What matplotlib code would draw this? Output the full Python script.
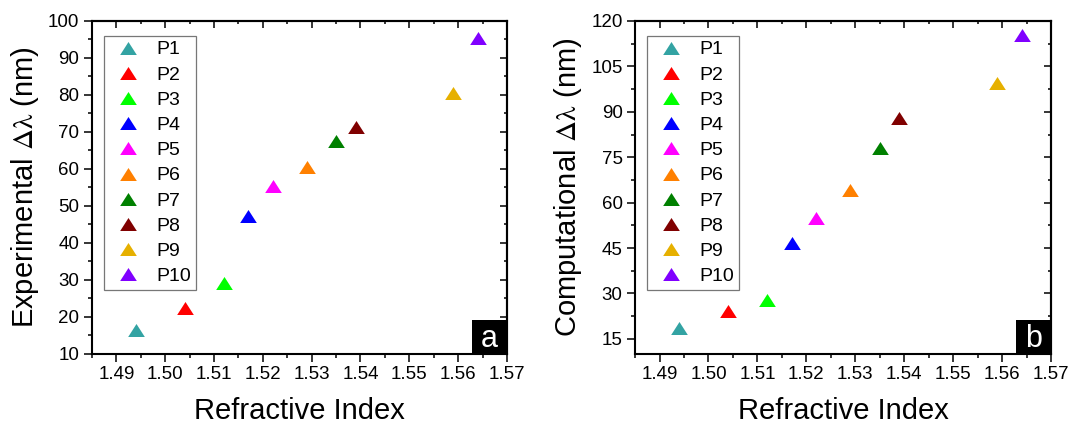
import matplotlib
matplotlib.use('Agg')
import matplotlib.pyplot as plt
from matplotlib.patches import Rectangle
from matplotlib.ticker import MultipleLocator, FormatStrFormatter

plt.rcParams['font.family'] = ['Liberation Sans', 'DejaVu Sans']
plt.rcParams['mathtext.fontset'] = 'stix'

labels = ['P1', 'P2', 'P3', 'P4', 'P5', 'P6', 'P7', 'P8', 'P9', 'P10']
colors = ['#33A3A3', '#FF0000', '#00FF00', '#0000FF', '#FF00FF',
          '#FF8000', '#008000', '#800000', '#E6B000', '#8000FF']
ri = [1.494, 1.504, 1.512, 1.517, 1.522, 1.529, 1.535, 1.539, 1.559, 1.564]
exp_shift = [16.5, 22.4, 29.3, 47.3, 55.4, 60.6, 67.5, 71.4, 80.6, 95.5]
comp_shift = [18.6, 24.1, 27.9, 46.5, 54.8, 64.3, 78.0, 87.8, 99.5, 115.3]

# slightly flattened up-triangle, like the original marker
tri = [(0, 0.78), (-1, -0.78), (1, -0.78), (0, 0.78)]

fig = plt.figure(figsize=(10.72, 4.24), dpi=100)
ax_a = fig.add_axes([0.0858, 0.1651, 0.3871, 0.7854])
ax_b = fig.add_axes([0.5924, 0.1651, 0.3881, 0.7854])

LW = 1.5


def style_panel(ax, yvals, ylabel, ylim, ymajor, tag):
    for x, y, c, lab in zip(ri, yvals, colors, labels):
        ax.plot(x, y, linestyle='none', marker=tri, ms=12, color=c,
                markeredgewidth=0, label=lab)
    ax.set_xlim(1.485, 1.57)
    ax.set_ylim(*ylim)
    ax.xaxis.set_major_locator(MultipleLocator(0.01))
    ax.xaxis.set_minor_locator(MultipleLocator(0.005))
    ax.yaxis.set_major_locator(MultipleLocator(ymajor))
    ax.yaxis.set_minor_locator(MultipleLocator(ymajor / 2))
    ax.xaxis.set_major_formatter(FormatStrFormatter('%.2f'))
    ax.tick_params(which='major', direction='out', length=5.5, width=1.1,
                   labelsize=13.5, pad=3.5)
    ax.tick_params(which='minor', direction='out', length=2.8, width=1.1)
    for sp in ax.spines.values():
        sp.set_linewidth(LW)
    # mirrored ticks on top and right, pointing into the plot
    top = ax.secondary_xaxis('top')
    top.xaxis.set_major_locator(MultipleLocator(0.01))
    top.xaxis.set_minor_locator(MultipleLocator(0.005))
    top.tick_params(which='major', direction='in', length=5, width=1.1, labeltop=False)
    top.tick_params(which='minor', direction='in', length=2.5, width=1.1)
    top.spines['top'].set_linewidth(LW)
    right = ax.secondary_yaxis('right')
    right.yaxis.set_major_locator(MultipleLocator(ymajor))
    right.yaxis.set_minor_locator(MultipleLocator(ymajor / 2))
    right.tick_params(which='major', direction='in', length=5, width=1.1, labelright=False)
    right.tick_params(which='minor', direction='in', length=2.5, width=1.1)
    right.spines['right'].set_linewidth(LW)

    ax.set_xlabel('Refractive Index', fontsize=21, labelpad=10)
    ax.set_ylabel(ylabel, fontsize=21, labelpad=5)

    leg = ax.legend(loc='upper left', bbox_to_anchor=(0.029, 0.955), fontsize=14,
                    frameon=True, fancybox=False, edgecolor='#555555',
                    labelspacing=0.39, handlelength=2.0, handletextpad=0.44,
                    borderpad=0.25, borderaxespad=0)
    leg.get_frame().set_linewidth(0.9)

    ax.add_patch(Rectangle((0.916, 0.0), 0.084, 0.103, transform=ax.transAxes,
                           facecolor='black', edgecolor='none', zorder=5))
    ax.text(0.958, 0.046, tag, transform=ax.transAxes, color='white',
            fontsize=22, ha='center', va='center', zorder=6)


style_panel(ax_a, exp_shift, r'Experimental $\mathrm{\Delta\lambda}$ (nm)', (10, 100), 10, 'a')
style_panel(ax_b, comp_shift, r'Computational $\mathrm{\Delta\lambda}$ (nm)', (10, 120), 15, 'b')

fig.savefig('out.png', dpi=100)
